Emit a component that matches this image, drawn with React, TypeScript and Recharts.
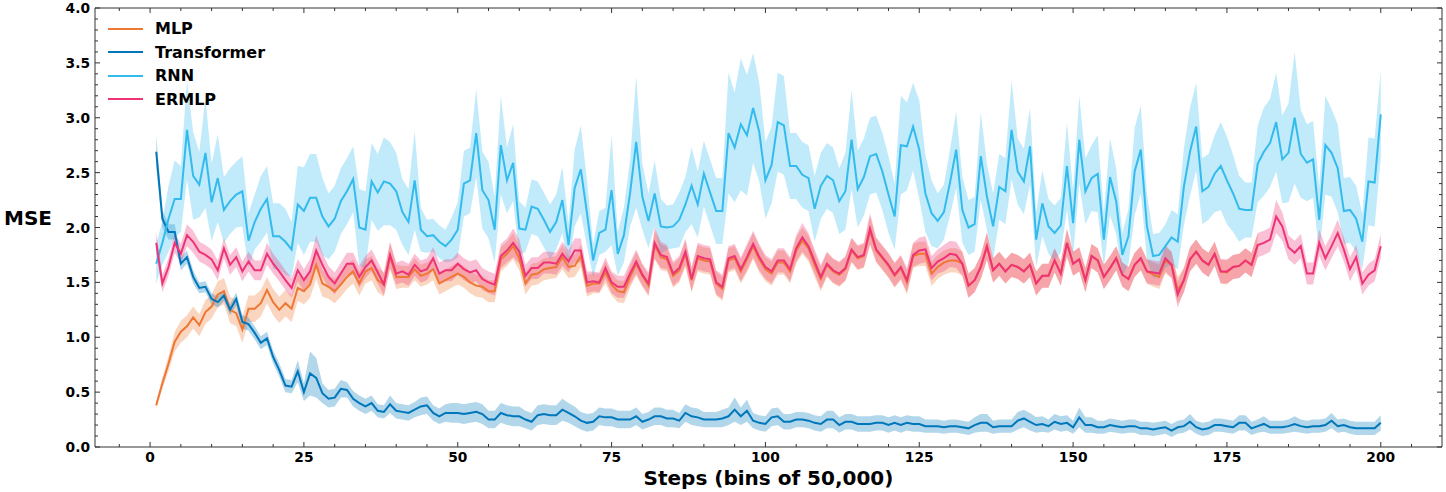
import {
  ComposedChart,
  Area,
  Line,
  XAxis,
  YAxis,
  Legend,
  Label,
  ReferenceArea,
} from "recharts";

const FONT = "DejaVu Sans";
const PLOT_TOP = 8;
const PLOT_LEFT = 95;
const PLOT_RIGHT = 1442;
const PLOT_BOTTOM = 447;

const seriesInfo = [
  { key: "mlp", name: "MLP", color: "#EE7733" },
  { key: "transformer", name: "Transformer", color: "#0077BB" },
  { key: "rnn", name: "RNN", color: "#33BBEE" },
  { key: "ermlp", name: "ERMLP", color: "#EE3377" },
];

const xMajor = [0, 25, 50, 75, 100, 125, 150, 175, 200];
const xTicks = Array.from({ length: 43 }, (_, i) => -5 + i * 5);
const yTicks = Array.from({ length: 41 }, (_, i) => +(i * 0.1).toFixed(1));

// mean MSE per bin (steps 1..200)
const transformer = [
  2.69, 2.08, 1.96, 1.96, 1.67, 1.73, 1.55, 1.45, 1.46, 1.35,
  1.32, 1.38, 1.25, 1.35, 1.14, 1.12, 1.04, 0.95, 0.99, 0.82,
  0.70, 0.56, 0.55, 0.69, 0.50, 0.67, 0.63, 0.49, 0.44, 0.45,
  0.53, 0.52, 0.44, 0.40, 0.37, 0.40, 0.33, 0.32, 0.39, 0.33,
  0.32, 0.31, 0.34, 0.37, 0.38, 0.31, 0.28, 0.31, 0.31, 0.31,
  0.30, 0.31, 0.32, 0.30, 0.25, 0.25, 0.31, 0.29, 0.28, 0.28,
  0.25, 0.23, 0.29, 0.30, 0.29, 0.29, 0.34, 0.31, 0.28, 0.24,
  0.22, 0.23, 0.28, 0.27, 0.27, 0.25, 0.25, 0.25, 0.28, 0.23,
  0.25, 0.28, 0.28, 0.26, 0.26, 0.24, 0.31, 0.28, 0.27, 0.25,
  0.25, 0.25, 0.26, 0.28, 0.34, 0.28, 0.33, 0.24, 0.22, 0.21,
  0.27, 0.28, 0.23, 0.23, 0.25, 0.25, 0.24, 0.22, 0.21, 0.25,
  0.25, 0.20, 0.23, 0.23, 0.21, 0.21, 0.21, 0.22, 0.22, 0.20,
  0.22, 0.20, 0.22, 0.21, 0.21, 0.19, 0.19, 0.19, 0.18, 0.19,
  0.19, 0.18, 0.17, 0.20, 0.22, 0.22, 0.18, 0.19, 0.19, 0.19,
  0.24, 0.26, 0.23, 0.20, 0.21, 0.19, 0.23, 0.21, 0.22, 0.18,
  0.27, 0.20, 0.20, 0.18, 0.18, 0.20, 0.19, 0.18, 0.19, 0.19,
  0.17, 0.17, 0.16, 0.17, 0.18, 0.15, 0.18, 0.19, 0.23, 0.18,
  0.16, 0.17, 0.20, 0.20, 0.19, 0.18, 0.22, 0.22, 0.17, 0.19,
  0.21, 0.18, 0.18, 0.18, 0.19, 0.21, 0.19, 0.18, 0.19, 0.19,
  0.20, 0.24, 0.19, 0.20, 0.18, 0.17, 0.17, 0.17, 0.17, 0.22,
];

const transformerSpread = [
  0.15, 0.08, 0.07, 0.07, 0.06, 0.06, 0.06, 0.05, 0.05, 0.05,
  0.05, 0.05, 0.05, 0.06, 0.06, 0.06, 0.06, 0.06, 0.06, 0.06,
  0.06, 0.06, 0.06, 0.10, 0.08, 0.20, 0.18, 0.09, 0.08, 0.08,
  0.08, 0.07, 0.07, 0.07, 0.07, 0.07, 0.06, 0.06, 0.08, 0.07,
  0.07, 0.07, 0.07, 0.08, 0.08, 0.07, 0.07, 0.08, 0.09, 0.09,
  0.09, 0.09, 0.09, 0.09, 0.08, 0.08, 0.09, 0.09, 0.09, 0.09,
  0.08, 0.08, 0.09, 0.09, 0.09, 0.09, 0.10, 0.09, 0.09, 0.08,
  0.08, 0.08, 0.08, 0.08, 0.08, 0.08, 0.08, 0.08, 0.08, 0.07,
  0.07, 0.08, 0.08, 0.08, 0.08, 0.07, 0.08, 0.08, 0.08, 0.07,
  0.07, 0.07, 0.08, 0.08, 0.11, 0.08, 0.10, 0.07, 0.07, 0.07,
  0.08, 0.08, 0.07, 0.07, 0.07, 0.07, 0.07, 0.07, 0.07, 0.08,
  0.08, 0.07, 0.07, 0.07, 0.07, 0.07, 0.07, 0.07, 0.07, 0.07,
  0.07, 0.07, 0.07, 0.07, 0.07, 0.06, 0.06, 0.06, 0.06, 0.06,
  0.06, 0.06, 0.06, 0.07, 0.08, 0.08, 0.06, 0.06, 0.06, 0.06,
  0.08, 0.08, 0.08, 0.07, 0.07, 0.06, 0.07, 0.07, 0.07, 0.06,
  0.09, 0.07, 0.07, 0.06, 0.06, 0.06, 0.06, 0.06, 0.06, 0.06,
  0.06, 0.06, 0.06, 0.06, 0.06, 0.06, 0.06, 0.06, 0.07, 0.06,
  0.06, 0.06, 0.06, 0.06, 0.06, 0.06, 0.07, 0.07, 0.06, 0.06,
  0.07, 0.06, 0.06, 0.06, 0.06, 0.07, 0.06, 0.06, 0.06, 0.06,
  0.06, 0.07, 0.06, 0.06, 0.06, 0.06, 0.06, 0.06, 0.06, 0.07,
];

// MLP only runs to bin 180
const mlp = [
  0.38, 0.58, 0.76, 0.96, 1.05, 1.10, 1.18, 1.11, 1.23, 1.28,
  1.39, 1.42, 1.25, 1.22, 1.07, 1.26, 1.26, 1.31, 1.43, 1.32,
  1.25, 1.31, 1.26, 1.45, 1.42, 1.48, 1.66, 1.49, 1.46, 1.42,
  1.48, 1.55, 1.60, 1.49, 1.60, 1.63, 1.52, 1.48, 1.74, 1.55,
  1.55, 1.55, 1.62, 1.56, 1.58, 1.62, 1.49, 1.52, 1.55, 1.58,
  1.55, 1.50, 1.47, 1.46, 1.42, 1.42, 1.71, 1.76, 1.83, 1.72,
  1.49, 1.57, 1.58, 1.62, 1.63, 1.64, 1.73, 1.64, 1.65, 1.74,
  1.47, 1.49, 1.49, 1.59, 1.48, 1.42, 1.41, 1.55, 1.67, 1.56,
  1.47, 1.84, 1.73, 1.71, 1.56, 1.61, 1.76, 1.52, 1.72, 1.70,
  1.69, 1.49, 1.44, 1.70, 1.72, 1.60, 1.71, 1.83, 1.71, 1.62,
  1.58, 1.68, 1.68, 1.60, 1.79, 1.88, 1.81, 1.66, 1.53, 1.66,
  1.60, 1.57, 1.62, 1.79, 1.72, 1.74, 1.97, 1.79, 1.72, 1.65,
  1.56, 1.63, 1.50, 1.74, 1.76, 1.76, 1.58, 1.64, 1.68, 1.70,
  1.70, 1.67, 1.47, 1.52, 1.64, 1.83, 1.61, 1.67, 1.60, 1.66,
  1.64, 1.60, 1.66, 1.49, 1.56, 1.56, 1.70, 1.58, 1.86, 1.67,
  1.71, 1.52, 1.74, 1.70, 1.55, 1.63, 1.72, 1.57, 1.53, 1.66,
  1.72, 1.60, 1.57, 1.55, 1.70, 1.66, 1.43, 1.52, 1.71, 1.78,
  1.70, 1.66, 1.76, 1.60, 1.59, 1.64, 1.65, 1.70, 1.66, 1.84,
];

const mlpSpread = [
  0.03, 0.05, 0.07, 0.09, 0.10, 0.10, 0.10, 0.10, 0.11, 0.11,
  0.12, 0.12, 0.12, 0.12, 0.12, 0.12, 0.12, 0.12, 0.12, 0.12,
  0.12, 0.12, 0.12, 0.12, 0.12, 0.12, 0.13, 0.12, 0.11, 0.11,
  0.11, 0.11, 0.11, 0.11, 0.11, 0.11, 0.11, 0.11, 0.12, 0.11,
  0.10, 0.10, 0.10, 0.10, 0.10, 0.10, 0.10, 0.10, 0.10, 0.10,
  0.10, 0.10, 0.10, 0.10, 0.10, 0.10, 0.11, 0.11, 0.12, 0.11,
  0.10, 0.10, 0.10, 0.10, 0.10, 0.10, 0.11, 0.10, 0.10, 0.10,
  0.10, 0.09, 0.09, 0.10, 0.10, 0.10, 0.10, 0.10, 0.11, 0.10,
  0.10, 0.13, 0.12, 0.11, 0.11, 0.11, 0.12, 0.11, 0.12, 0.12,
  0.12, 0.11, 0.11, 0.11, 0.11, 0.11, 0.12, 0.12, 0.12, 0.11,
  0.11, 0.11, 0.11, 0.11, 0.12, 0.12, 0.12, 0.11, 0.11, 0.11,
  0.11, 0.11, 0.11, 0.11, 0.11, 0.11, 0.13, 0.11, 0.11, 0.11,
  0.11, 0.11, 0.11, 0.11, 0.11, 0.11, 0.11, 0.11, 0.11, 0.11,
  0.11, 0.11, 0.11, 0.11, 0.11, 0.12, 0.11, 0.11, 0.11, 0.11,
  0.11, 0.11, 0.11, 0.11, 0.11, 0.11, 0.11, 0.11, 0.12, 0.11,
  0.11, 0.11, 0.11, 0.11, 0.11, 0.11, 0.11, 0.11, 0.11, 0.11,
  0.11, 0.11, 0.11, 0.11, 0.12, 0.12, 0.12, 0.11, 0.11, 0.11,
  0.11, 0.11, 0.11, 0.11, 0.11, 0.11, 0.11, 0.11, 0.11, 0.11,
];

const ermlp = [
  1.86, 1.49, 1.64, 1.86, 1.76, 1.93, 1.87, 1.78, 1.75, 1.71,
  1.61, 1.81, 1.66, 1.73, 1.60, 1.69, 1.61, 1.61, 1.76, 1.67,
  1.60, 1.52, 1.45, 1.61, 1.52, 1.60, 1.79, 1.66, 1.55, 1.49,
  1.58, 1.67, 1.67, 1.55, 1.64, 1.70, 1.59, 1.48, 1.75, 1.58,
  1.60, 1.57, 1.66, 1.60, 1.62, 1.72, 1.58, 1.61, 1.61, 1.67,
  1.62, 1.59, 1.61, 1.53, 1.50, 1.48, 1.74, 1.79, 1.86, 1.78,
  1.56, 1.63, 1.63, 1.68, 1.68, 1.67, 1.76, 1.69, 1.79, 1.79,
  1.50, 1.51, 1.50, 1.63, 1.50, 1.46, 1.46, 1.58, 1.69, 1.57,
  1.49, 1.86, 1.75, 1.73, 1.58, 1.63, 1.78, 1.53, 1.74, 1.72,
  1.71, 1.50, 1.46, 1.72, 1.74, 1.62, 1.73, 1.85, 1.73, 1.64,
  1.60, 1.70, 1.70, 1.62, 1.81, 1.91, 1.83, 1.69, 1.55, 1.67,
  1.61, 1.58, 1.63, 1.80, 1.73, 1.75, 1.99, 1.80, 1.73, 1.66,
  1.57, 1.64, 1.52, 1.75, 1.79, 1.80, 1.63, 1.69, 1.72, 1.76,
  1.75, 1.67, 1.47, 1.52, 1.64, 1.83, 1.61, 1.67, 1.60, 1.66,
  1.64, 1.60, 1.66, 1.49, 1.56, 1.56, 1.70, 1.58, 1.86, 1.67,
  1.71, 1.52, 1.74, 1.70, 1.55, 1.63, 1.72, 1.57, 1.53, 1.66,
  1.72, 1.60, 1.59, 1.58, 1.72, 1.66, 1.39, 1.52, 1.71, 1.78,
  1.70, 1.66, 1.76, 1.60, 1.60, 1.64, 1.65, 1.70, 1.66, 1.84,
  1.86, 1.89, 2.10, 2.01, 1.82, 1.77, 1.83, 1.58, 1.58, 1.86,
  1.72, 1.83, 1.95, 1.80, 1.62, 1.73, 1.49, 1.57, 1.61, 1.83,
];

const ermlpSpread = [
  0.10, 0.08, 0.08, 0.09, 0.09, 0.10, 0.10, 0.09, 0.09, 0.09,
  0.09, 0.09, 0.09, 0.09, 0.09, 0.09, 0.09, 0.09, 0.10, 0.09,
  0.09, 0.09, 0.09, 0.10, 0.10, 0.11, 0.14, 0.11, 0.10, 0.10,
  0.10, 0.10, 0.10, 0.10, 0.10, 0.10, 0.10, 0.10, 0.12, 0.10,
  0.10, 0.10, 0.10, 0.10, 0.10, 0.10, 0.10, 0.10, 0.10, 0.10,
  0.10, 0.10, 0.10, 0.10, 0.10, 0.10, 0.11, 0.11, 0.13, 0.11,
  0.10, 0.10, 0.10, 0.10, 0.10, 0.10, 0.11, 0.10, 0.11, 0.11,
  0.10, 0.09, 0.09, 0.10, 0.10, 0.10, 0.10, 0.10, 0.11, 0.10,
  0.10, 0.14, 0.12, 0.11, 0.11, 0.11, 0.12, 0.11, 0.12, 0.12,
  0.12, 0.11, 0.11, 0.11, 0.11, 0.11, 0.12, 0.12, 0.12, 0.11,
  0.11, 0.11, 0.11, 0.11, 0.12, 0.13, 0.12, 0.11, 0.11, 0.11,
  0.11, 0.11, 0.11, 0.11, 0.11, 0.11, 0.14, 0.11, 0.11, 0.11,
  0.11, 0.11, 0.11, 0.11, 0.12, 0.12, 0.11, 0.11, 0.12, 0.12,
  0.12, 0.11, 0.11, 0.11, 0.11, 0.13, 0.11, 0.11, 0.11, 0.11,
  0.11, 0.11, 0.11, 0.11, 0.11, 0.11, 0.11, 0.11, 0.13, 0.11,
  0.11, 0.11, 0.11, 0.11, 0.11, 0.11, 0.11, 0.11, 0.11, 0.11,
  0.11, 0.11, 0.11, 0.11, 0.12, 0.12, 0.12, 0.11, 0.11, 0.11,
  0.11, 0.11, 0.11, 0.11, 0.11, 0.11, 0.11, 0.11, 0.11, 0.11,
  0.11, 0.11, 0.15, 0.13, 0.11, 0.11, 0.11, 0.10, 0.10, 0.12,
  0.11, 0.11, 0.12, 0.11, 0.11, 0.11, 0.10, 0.10, 0.10, 0.11,
];

const rnn = [
  1.67, 1.86, 2.08, 2.26, 2.26, 2.89, 2.47, 2.39, 2.68, 2.23,
  2.45, 2.16, 2.24, 2.30, 2.33, 1.88, 2.05, 2.17, 2.26, 1.92,
  1.92, 1.87, 1.80, 2.21, 2.15, 2.27, 2.27, 2.10, 2.01, 2.08,
  2.24, 2.33, 2.44, 2.00, 1.98, 2.42, 2.32, 2.42, 2.40, 2.33,
  2.14, 2.05, 2.43, 1.98, 1.92, 1.93, 1.87, 1.83, 1.89, 1.98,
  2.40, 2.43, 2.86, 2.34, 2.25, 1.98, 2.75, 2.43, 2.59, 1.99,
  1.98, 2.19, 2.17, 2.07, 1.96, 2.05, 2.25, 1.84, 2.36, 2.53,
  2.13, 1.70, 1.95, 1.98, 2.34, 1.76, 1.93, 2.31, 2.78, 2.28,
  2.06, 2.31, 2.01, 2.00, 2.01, 2.07, 2.21, 2.38, 2.21, 2.49,
  2.32, 2.15, 2.15, 2.86, 2.73, 2.94, 2.84, 3.09, 2.87, 2.43,
  2.57, 2.96, 2.93, 2.56, 2.56, 2.48, 2.45, 2.17, 2.38, 2.47,
  2.43, 2.24, 2.33, 2.80, 2.35, 2.46, 2.65, 2.67, 2.51, 2.30,
  2.10, 2.75, 2.74, 2.92, 2.71, 2.31, 2.13, 2.06, 2.14, 2.41,
  2.71, 2.16, 2.00, 2.03, 2.65, 2.28, 2.01, 2.37, 2.33, 2.89,
  2.51, 2.42, 2.74, 1.89, 2.22, 2.01, 1.95, 2.02, 2.56, 2.04,
  2.80, 2.33, 2.45, 2.49, 1.89, 2.46, 2.24, 1.75, 1.92, 2.51,
  2.71, 2.01, 1.74, 1.75, 1.83, 1.91, 1.87, 2.37, 2.69, 2.92,
  2.33, 2.37, 2.49, 2.56, 2.43, 2.31, 2.17, 2.16, 2.16, 2.58,
  2.69, 2.77, 2.96, 2.62, 2.68, 3.00, 2.67, 2.59, 2.62, 2.07,
  2.75, 2.68, 2.54, 2.15, 2.16, 2.08, 1.87, 2.42, 2.41, 3.03,
];

const rnnSpread = [
  0.18, 0.20, 0.30, 0.35, 0.30, 0.45, 0.40, 0.30, 0.50, 0.35,
  0.40, 0.30, 0.30, 0.30, 0.32, 0.25, 0.25, 0.30, 0.30, 0.30,
  0.30, 0.30, 0.25, 0.35, 0.40, 0.40, 0.40, 0.35, 0.30, 0.30,
  0.30, 0.30, 0.30, 0.35, 0.35, 0.35, 0.35, 0.40, 0.38, 0.35,
  0.30, 0.30, 0.45, 0.20, 0.15, 0.15, 0.15, 0.15, 0.20, 0.25,
  0.30, 0.30, 0.40, 0.35, 0.35, 0.30, 0.45, 0.30, 0.35, 0.25,
  0.20, 0.25, 0.25, 0.25, 0.25, 0.25, 0.30, 0.20, 0.35, 0.40,
  0.30, 0.15, 0.20, 0.20, 0.50, 0.20, 0.25, 0.30, 0.60, 0.30,
  0.25, 0.30, 0.25, 0.20, 0.20, 0.25, 0.25, 0.35, 0.30, 0.30,
  0.30, 0.30, 0.30, 0.55, 0.50, 0.60, 0.55, 0.50, 0.45, 0.35,
  0.35, 0.45, 0.45, 0.30, 0.30, 0.30, 0.30, 0.30, 0.30, 0.30,
  0.30, 0.30, 0.35, 0.45, 0.35, 0.35, 0.35, 0.35, 0.35, 0.35,
  0.30, 0.45, 0.40, 0.40, 0.45, 0.35, 0.30, 0.25, 0.25, 0.30,
  0.35, 0.30, 0.25, 0.25, 0.40, 0.30, 0.30, 0.30, 0.30, 0.45,
  0.30, 0.30, 0.35, 0.25, 0.30, 0.25, 0.25, 0.25, 0.40, 0.30,
  0.40, 0.30, 0.30, 0.35, 0.25, 0.35, 0.30, 0.20, 0.25, 0.40,
  0.40, 0.30, 0.20, 0.20, 0.20, 0.25, 0.25, 0.35, 0.40, 0.40,
  0.30, 0.30, 0.35, 0.40, 0.40, 0.35, 0.30, 0.25, 0.25, 0.35,
  0.40, 0.40, 0.45, 0.40, 0.45, 0.60, 0.40, 0.35, 0.35, 0.30,
  0.45, 0.40, 0.40, 0.30, 0.30, 0.30, 0.25, 0.40, 0.40, 0.40,
];

const band = (vals: number[], spread: number[], i: number) =>
  i < vals.length ? [vals[i] - spread[i], vals[i] + spread[i]] : null;

const data = ermlp.map((_, i) => ({
  step: i + 1,
  mlp: i < mlp.length ? mlp[i] : null,
  mlpBand: band(mlp, mlpSpread, i),
  transformer: transformer[i],
  transformerBand: band(transformer, transformerSpread, i),
  rnn: rnn[i],
  rnnBand: band(rnn, rnnSpread, i),
  ermlp: ermlp[i],
  ermlpBand: band(ermlp, ermlpSpread, i),
}));

const XTick = (props: any) => {
  const { x, payload } = props;
  const major = xMajor.includes(payload.value);
  const len = major ? 5 : 3;
  return (
    <g>
      <line x1={x} x2={x} y1={PLOT_BOTTOM} y2={PLOT_BOTTOM - len} stroke="#333" />
      <line x1={x} x2={x} y1={PLOT_TOP} y2={PLOT_TOP + len} stroke="#333" />
      {major && (
        <text
          x={x}
          y={PLOT_BOTTOM + 14.5}
          textAnchor="middle"
          fontFamily={FONT}
          fontWeight="bold"
          fontSize={13.8}
          fill="#000"
        >
          {payload.value}
        </text>
      )}
    </g>
  );
};

const YTick = (props: any) => {
  const { y, payload } = props;
  const major = Math.round(payload.value * 10) % 5 === 0;
  const len = major ? 5 : 3;
  return (
    <g>
      <line x1={PLOT_LEFT} x2={PLOT_LEFT + len} y1={y} y2={y} stroke="#333" />
      <line x1={PLOT_RIGHT} x2={PLOT_RIGHT - len} y1={y} y2={y} stroke="#333" />
      {major && (
        <text
          x={PLOT_LEFT - 5}
          y={y + 5}
          textAnchor="end"
          fontFamily={FONT}
          fontWeight="bold"
          fontSize={13.8}
          fill="#000"
        >
          {payload.value.toFixed(1)}
        </text>
      )}
    </g>
  );
};

const LegendBox = () => (
  <div style={{ fontFamily: FONT, fontWeight: "bold", fontSize: 16 }}>
    {seriesInfo.map((s) => (
      <div key={s.key} style={{ display: "flex", alignItems: "center", height: 23.5 }}>
        <svg width={35} height={4} style={{ marginRight: 12 }}>
          <line x1={0} x2={35} y1={2} y2={2} stroke={s.color} strokeWidth={2.2} />
        </svg>
        <span>{s.name}</span>
      </div>
    ))}
  </div>
);

export default function App() {
  return (
    <div style={{ position: "absolute", left: 0, top: 0, background: "#fff" }}>
      <ComposedChart
        width={1446}
        height={492}
        data={data}
        margin={{ top: PLOT_TOP, right: 1446 - PLOT_RIGHT, bottom: 0, left: 0 }}
      >
        <XAxis
          type="number"
          dataKey="step"
          domain={[-8.95, 209.95]}
          ticks={xTicks}
          interval={0}
          allowDataOverflow
          height={492 - PLOT_BOTTOM}
          tickSize={0}
          tickMargin={0}
          tickLine={false}
          axisLine={false}
          tick={(p: any) => <XTick {...p} />}
        >
          <Label
            content={(p: any) => (
              <text
                x={p.viewBox.x + p.viewBox.width / 2}
                y={485}
                textAnchor="middle"
                fontFamily={FONT}
                fontWeight="bold"
                fontSize={20}
                fill="#000"
              >
                Steps (bins of 50,000)
              </text>
            )}
          />
        </XAxis>
        <YAxis
          type="number"
          domain={[0, 4]}
          ticks={yTicks}
          interval={0}
          allowDataOverflow
          width={PLOT_LEFT}
          tickSize={0}
          tickMargin={0}
          tickLine={false}
          axisLine={false}
          tick={(p: any) => <YTick {...p} />}
        >
          <Label
            content={() => (
              <text
                x={28}
                y={225}
                textAnchor="middle"
                fontFamily={FONT}
                fontWeight="bold"
                fontSize={20}
                fill="#000"
              >
                MSE
              </text>
            )}
          />
        </YAxis>

        {seriesInfo.map((s) => (
          <Area
            key={s.key + "Band"}
            dataKey={s.key + "Band"}
            stroke="none"
            fill={s.color}
            fillOpacity={0.3}
            isAnimationActive={false}
            legendType="none"
            activeDot={false}
          />
        ))}
        {seriesInfo.map((s) => (
          <Line
            key={s.key}
            dataKey={s.key}
            name={s.name}
            stroke={s.color}
            strokeWidth={2}
            dot={false}
            activeDot={false}
            isAnimationActive={false}
          />
        ))}

        <ReferenceArea
          x1={-8.95}
          x2={209.95}
          y1={0}
          y2={4}
          fill="none"
          stroke="#333"
          strokeWidth={1}
          ifOverflow="visible"
        />
        <Legend
          layout="vertical"
          align="center"
          verticalAlign="middle"
          wrapperStyle={{ left: 108, top: 17, width: "auto" }}
          content={() => <LegendBox />}
        />
      </ComposedChart>
    </div>
  );
}
